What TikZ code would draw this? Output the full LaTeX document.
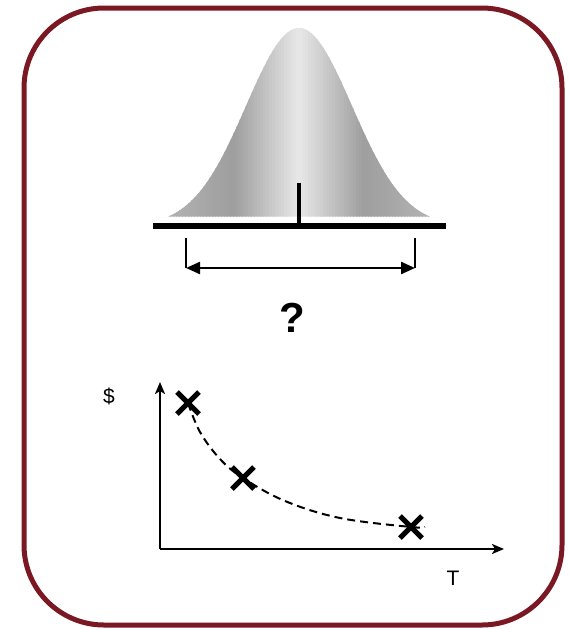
\documentclass[tikz,border=0pt]{standalone}
\usepackage{fontspec}
\setmainfont{Liberation Sans}
\usetikzlibrary{arrows.meta,calc}
\definecolor{frame}{HTML}{7A1824}
\tikzset{
  frameline/.style={draw=frame, line width=5pt, rounded corners=80pt},
  baseline/.style={line width=6pt},
  bracket/.style={line width=2.3pt},
  axisline/.style={line width=2pt, -{Stealth[length=12pt,width=10pt,inset=3pt]}},
  crossmark/.style={line width=5pt},
  trend/.style={line width=2pt, dash pattern=on 8pt off 5pt},
  lbl/.style={inner sep=0pt, font=\fontsize{21pt}{25pt}\selectfont}
}
\begin{document}
\begin{tikzpicture}[x=1pt,y=-1pt]
\useasboundingbox (0,0) rectangle (568,629);
% frame
\draw[frameline] (24,8) rectangle (562,625);
% bell curve with horizontal gradient
\begin{scope}
  \clip plot[domain=-131:131, samples=120, smooth] ({299+\x}, {226-198*exp(-((\x/53)^2)/2)}) -- cycle;
  \foreach \i in {0,...,88}{
    \pgfmathsetmacro{\xx}{167+3*\i}
    \pgfmathsetmacro{\d}{abs(\xx+1.5-299)}
    \pgfmathsetmacro{\k}{\d<65 ? 9+29*\d/65 : 38-8*(\d-65)/66}
    \fill[black!\k] (\xx,20) rectangle ({\xx+3.6},230);
  }
\end{scope}
\coordinate (bl) at (153,226);
\coordinate (br) at (446,226);
\coordinate (mu) at (299,226);
\coordinate (mutop) at (299,183);
\draw[baseline] (bl) -- (br);
\draw[line width=4pt] (mu) -- (mutop);
% bracket
\coordinate (la) at (186,238);
\coordinate (lb) at (186,268);
\coordinate (ra) at (415,238);
\coordinate (rb) at (415,268);
\draw[bracket] (la) -- (lb);
\draw[bracket] (ra) -- (rb);
\draw[bracket, {Triangle[length=14pt,width=12pt]}-{Triangle[length=14pt,width=12pt]}] (lb) -- (rb);
\node[inner sep=0pt, font=\fontsize{42pt}{48pt}\selectfont\bfseries] (q) at (292,318) {?};
% chart
\coordinate (o) at (160,549);
\coordinate (ytip) at (160,382);
\coordinate (xtip) at (504,549);
\draw[axisline] (o) -- (ytip);
\draw[axisline] (o) -- (xtip);
\node[lbl] (dollar) at (109,396) {\$};
\node[lbl] (tlab) at (453,578) {T};
\coordinate (p1) at (188,403);
\coordinate (p2) at (243,478);
\coordinate (p3) at (411,527);
\coordinate (pend) at (425,527);
\draw[trend] plot[smooth, tension=0.6] coordinates {(p1) (200,432) (220,459) (p2) (285,501) (340,518) (p3) (pend)};
\foreach \p in {p1,p2,p3}{
  \draw[crossmark] ($(\p)+(-11,-11)$) -- ($(\p)+(11,11)$);
  \draw[crossmark] ($(\p)+(-11,11)$) -- ($(\p)+(11,-11)$);
}
\end{tikzpicture}
\end{document}
